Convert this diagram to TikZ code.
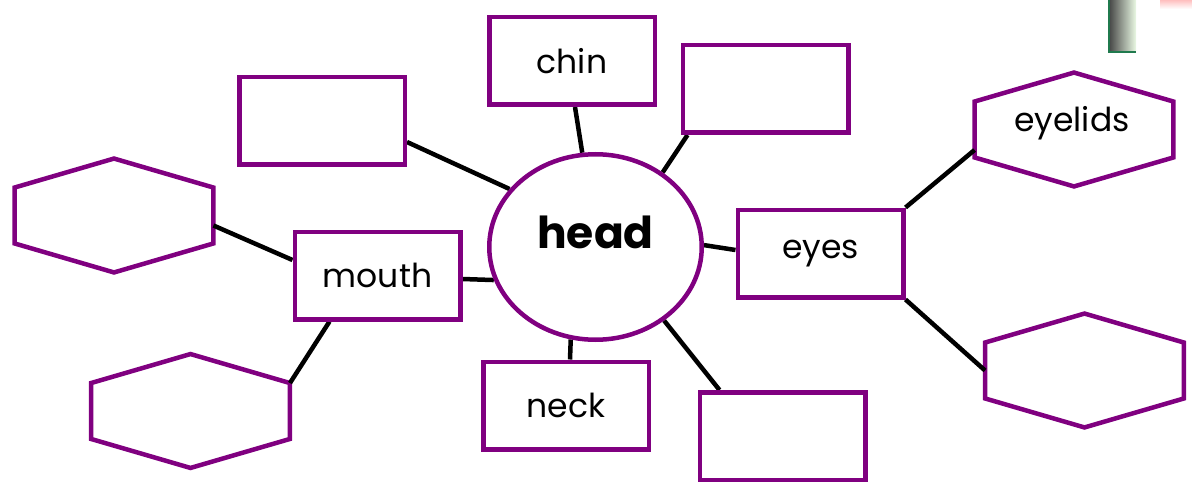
\documentclass[tikz,border=0pt]{standalone}
\usepackage{fontspec}
\setmainfont{Poppins}
\usetikzlibrary{shapes.geometric,calc,backgrounds}
\definecolor{pur}{HTML}{800080}
\definecolor{gborder}{HTML}{207A4E}
\definecolor{gdark}{HTML}{404040}
\definecolor{glight}{HTML}{EAF9E4}
\begin{document}
\begin{tikzpicture}[x=1pt,y=-1pt,
  lbl/.style={font=\fontsize{33}{40}\selectfont},
  box/.style={draw=pur, fill=white, line width=4.5pt, minimum width=165.5pt, minimum height=87.5pt, inner sep=0pt, lbl},
  hexnode/.style={minimum width=198.5pt, minimum height=113.5pt, inner sep=0pt, lbl},
  hexline/.style={draw=pur, fill=white, line width=4.5pt, line join=miter},
  conn/.style={line width=4.5pt, black}]
\useasboundingbox (0,0) rectangle (1192,484);

% decorative fragment at top right
\shade[left color=gdark, right color=glight] (1108,-2) rectangle (1136,53);
\draw[gborder, line width=2.5pt] (1109,-2) -- (1109,52) -- (1136,52);
\shade[top color=red!25, bottom color=white] (1160,0) rectangle (1192,9);

% central ellipse
\node[ellipse, draw=pur, fill=white, line width=4.5pt, minimum width=212.5pt, minimum height=185.5pt, inner sep=0pt,
      label={[yshift=15pt, font=\fontsize{44}{50}\selectfont\bfseries]center:head}] (head) at (595.5,247) {};

% rectangles
\node[box] (chin)  at (572,61)    {chin};
\node[box] (tr)    at (765.5,89)  {};
\node[box] (tl)    at (322,121)   {};
\node[box] (mouth) at (377.5,275.5) {mouth};
\node[box] (eyes)  at (820.5,253.5) {eyes};
\node[box] (neck)  at (566,405.5) {neck};
\node[box] (br)    at (782.5,436) {};

% hexagons
\node[hexnode] (hl) at (114,215.5) {};
\node[hexnode] (hb) at (190.5,411) {};
\node[hexnode] (hr) at (1084.5,370.5) {};
\node[hexnode] (he) at (1074,129.5) {};
\begin{scope}[on background layer]
\foreach \n in {hl,hb,hr,he}
  \path[hexline] (\n.north) -- ([yshift=-29pt]\n.north east) -- ([yshift=29pt]\n.south east)
        -- (\n.south) -- ([yshift=29pt]\n.south west) -- ([yshift=-29pt]\n.north west) -- cycle;
\end{scope}
\node[lbl] at (1072,123) {eyelids};

% connectors
\begin{scope}[on background layer]
\draw[conn] ([yshift=-21pt]tl.east) -- (head.146);
\draw[conn] ([xshift=3pt]chin.south) -- (head.98);
\draw[conn] ([xshift=7pt]tr.south west) -- (head.48);
\draw[conn] ([yshift=-10pt]hl.east) -- ([yshift=15.5pt]mouth.west);
\draw[conn] ([yshift=-3.5pt]mouth.east) -- (head.198);
\draw[conn] ([xshift=37pt]mouth.south west) -- ([yshift=-29pt]hb.north east);
\draw[conn] (head.255) -- ([xshift=4pt]neck.north);
\draw[conn] (head.313) -- ([xshift=22pt]br.north west);
\draw[conn] (head.1) -- ([yshift=3.5pt]eyes.west);
\draw[conn] (eyes.north east) -- ([yshift=-20.5pt]he.west);
\draw[conn] (eyes.south east) -- (hr.west);
\end{scope}
\end{tikzpicture}
\end{document}
